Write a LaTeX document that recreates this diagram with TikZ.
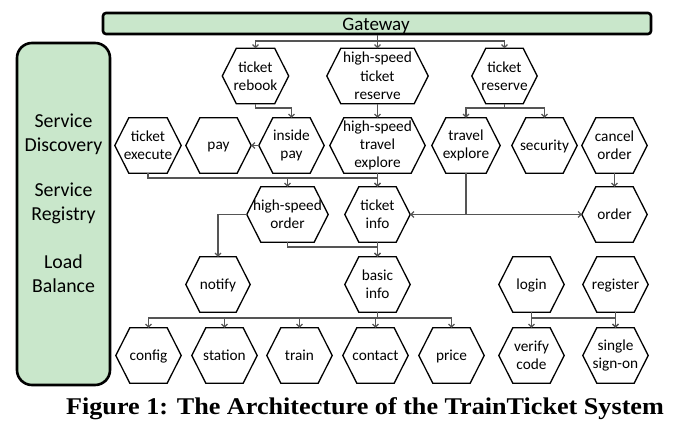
\documentclass[tikz,border=0pt]{standalone}
\usepackage{fontspec}
\setmainfont{Carlito}
\newfontfamily\capfont{Liberation Serif}
\usetikzlibrary{arrows.meta}
\definecolor{panelgreen}{RGB}{201,231,203}
\definecolor{conngray}{RGB}{85,85,85}
\newcommand\HexNode[6][]{%
  \node[hex,minimum width=#5pt,#1] (#2) at (#3,#4) {#6};
  \draw[hexline] (#2.west) -- ([xshift=14pt]#2.north west) -- ([xshift=-14pt]#2.north east)
    -- (#2.east) -- ([xshift=-14pt]#2.south east) -- ([xshift=14pt]#2.south west) -- cycle;}
\begin{document}
\begin{tikzpicture}[x=1pt,y=-1pt,
  hex/.style={minimum height=55pt, inner sep=0pt, align=center,
    font=\fontsize{15.3}{18.3}\selectfont},
  one/.style={text depth=0pt},
  hexline/.style={draw=black, line width=1.3pt, line join=miter},
  conn/.style={draw=conngray, line width=1.1pt, -{Straight Barb[length=3pt,width=6pt]}},
  plain/.style={draw=conngray, line width=1.1pt},
  greenbox/.style={draw=black, line width=2.6pt, fill=panelgreen},
  paneltext/.style={align=center, font=\fontsize{19.8}{23.8}\selectfont}
]
\useasboundingbox (0,0) rectangle (683,427);

% Gateway bar
\node[greenbox, rounded corners=3pt, minimum width=548pt, minimum height=21pt,
      inner sep=0pt] (gw) at (377,23.5) {};
\node[font=\fontsize{19}{21}\selectfont, inner sep=0pt] (gwt) at (376,25.5) {Gateway};

% Left panel
\node[greenbox, rounded corners=15pt, minimum width=93pt, minimum height=342pt] (panel) at (63.5,214) {};
\node[paneltext] (sd1) at (63.5,134) {Service\\Discovery};
\node[paneltext] (sd2) at (63.5,203) {Service\\Registry};
\node[paneltext] (sd3) at (63.5,273.5) {Load\\Balance};

% Hexagons
\HexNode{reb}{255.5}{76}{66}{ticket\\rebook}
\HexNode{hstr}{377.5}{76}{101}{high-speed\\ticket\\reserve}
\HexNode{tres}{504.5}{76}{65}{ticket\\reserve}
\HexNode{texe}{148}{145.5}{66}{ticket\\execute}
\HexNode[one]{pay}{218.5}{145.5}{65}{pay}
\HexNode{ipay}{291.5}{145.5}{65}{inside\\pay}
\HexNode{hste}{377.5}{145.5}{95}{high-speed\\travel\\explore}
\HexNode{tex}{466}{145.5}{68}{travel\\explore}
\HexNode[one]{sec}{544.5}{145.5}{65}{security}
\HexNode{cord}{614.5}{145.5}{65}{cancel\\order}
\HexNode{hso}{287.5}{214.5}{81}{high-speed\\order}
\HexNode{tinfo}{377.5}{214.5}{65}{ticket\\info}
\HexNode[one]{order}{614.5}{214.5}{65}{order}
\HexNode[one]{notify}{218}{284.5}{64}{notify}
\HexNode{binfo}{377.5}{284.5}{65}{basic\\info}
\HexNode[one]{login}{531.5}{284.5}{65}{login}
\HexNode[one]{reg}{615.5}{284.5}{65}{register}
\HexNode[one]{config}{148.5}{355.5}{65}{config}
\HexNode[one]{station}{224.5}{355.5}{65}{station}
\HexNode[one]{train}{299.5}{355.5}{65}{train}
\HexNode[one]{contact}{375.5}{355.5}{65}{contact}
\HexNode[one]{price}{451.5}{355.5}{65}{price}
\HexNode{verify}{531.5}{355.5}{65}{verify\\code}
\HexNode{sso}{615.5}{355.5}{65}{single\\sign-on}

% level coordinates
\coordinate (yG) at (0,41);
\coordinate (yR) at (0,108);
\coordinate (yE) at (0,178);
\coordinate (yB) at (0,247);
\coordinate (yC) at (0,318);

% Gateway fan-out
\draw[conn] (gw.south -| hstr.north) -- (hstr.north);
\draw[conn] (hstr.north |- yG) -| (reb.north);
\draw[conn] (hstr.north |- yG) -| (tres.north);

% row 1 -> row 2
\draw[conn] (reb.south) -- (reb.south |- yR) -| (ipay.north);
\draw[conn] (ipay.west) -- (pay.east);
\draw[conn] (hstr.south) -- (hste.north);
\draw[conn] (tres.south) -- (tres.south |- yR) -| (tex.north);
\draw[conn] (tres.south |- yR) -| (sec.north);

% row 2 -> row 3
\draw[conn] (texe.south) -- (texe.south |- yE) -| (tinfo.north);
\draw[conn] (hso.north |- yE) -- (hso.north);
\draw[conn] (hste.south) -- (tinfo.north);
\draw[conn] (tex.south) |- (tinfo.east);
\draw[conn] (tex.south |- order.west) -- (order.west);
\draw[conn] (cord.south) -- (order.north);

% row 3 -> row 4
\draw[conn] (hso.west) -| (notify.north);
\draw[conn] (hso.south) -- (hso.south |- yB) -| (binfo.north);
\draw[conn] (tinfo.south) -- (binfo.north);

% row 4 -> row 5
\draw[plain] (binfo.south) -- (binfo.south |- yC);
\foreach \t in {config,station,train,contact,price}
  \draw[conn] (binfo.south |- yC) -| (\t.north);
\draw[conn] (login.south) -- (verify.north);
\draw[conn] (login.south |- yC) -| (sso.north);
\draw[conn] (reg.south) -- (sso.north);

% Caption
\node[font=\capfont\bfseries\fontsize{24}{26}\selectfont, inner sep=0pt] (cap) at (365,409)
  {\scalebox{1.09}[1]{Figure 1: The Architecture of the TrainTicket System}};
\end{tikzpicture}
\end{document}
